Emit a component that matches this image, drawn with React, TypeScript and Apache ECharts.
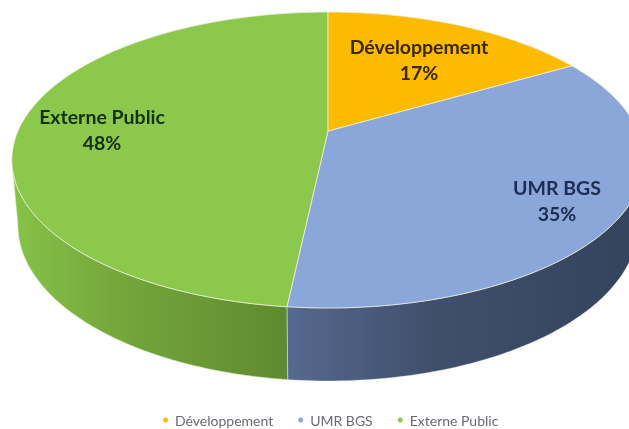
import React, { useEffect, useRef } from "react";
import * as echarts from "echarts";

const categories = ["Développement", "UMR BGS", "Externe Public"];
const values = [16.6, 35.1, 48.3];
const topColors = ["#FDBB00", "#8BA6D9", "#8CC84B"];
const sideLeft = ["#C79600", "#56698F", "#86C249"];
const sideMid = ["#C79600", "#404F6B", "#74A63B"];
const sideRight = ["#C79600", "#33435C", "#5F8A30"];
const labelColors = ["#3a2600", "#1c2c52", "#12300a"];
const labelAnchors = [[419, 59], [557, 200], [102, 129]];

const W = 629, H = 429;
const APEX_X = 328, APEX_Y = 131;
const RX = 310, RY = 142.3, PERSP = 0.196;
const START = 0;
const BOTTOM_SX = 0.981, BOTTOM_SY = 1.054, BOTTOM_APEX_Y = 194.4;
const TANGENT = (Math.acos(-PERSP) * 180) / Math.PI;
const TOTAL = values.reduce((a, b) => a + b, 0);

function project(deg: number, bottom: boolean): number[] {
  const t = (deg * Math.PI) / 180;
  const u = Math.sin(t), v = Math.cos(t);
  const d = 1 + PERSP * v;
  const sx = bottom ? BOTTOM_SX : 1;
  const sy = bottom ? BOTTOM_SY : 1;
  return [APEX_X + (sx * RX * u) / d, (bottom ? BOTTOM_APEX_Y : APEX_Y) - (sy * RY * v) / d];
}
function arc(a: number, b: number, bottom: boolean): number[][] {
  const pts: number[][] = [];
  const n = Math.max(2, Math.ceil(Math.abs(b - a)));
  for (let i = 0; i <= n; i++) pts.push(project(a + ((b - a) * i) / n, bottom));
  return pts;
}

function makeSeries(index: number) {
  const before = values.slice(0, index).reduce((a, b) => a + b, 0);
  return {
    type: "custom",
    name: categories[index],
    coordinateSystem: "none",
    silent: true,
    z: index === 0 ? 3 : 2,
    itemStyle: { color: topColors[index] },
    data: [values[index]],
    renderItem: (_p: unknown, api: any) => {
      const value = api.value(0);
      const a0 = START + (before / TOTAL) * 360;
      const a1 = a0 + (value / TOTAL) * 360;
      const children: any[] = [];
      const from = Math.max(a0, TANGENT);
      const to = Math.min(a1, 360 - TANGENT);
      if (to > from) {
        children.push({
          type: "polygon",
          shape: { points: [...arc(from, to, false), ...arc(to, from, true)] },
          style: {
            fill: new echarts.graphic.LinearGradient(0, 0, 1, 0, [
              { offset: 0, color: sideLeft[index] },
              { offset: 0.4, color: sideMid[index] },
              { offset: 1, color: sideRight[index] },
            ]),
            stroke: index === 2 ? "rgba(215,240,190,0.6)" : "rgba(225,235,240,0.35)",
            lineWidth: 1,
          },
        });
      }
      children.push({
        type: "polygon",
        shape: { points: [[APEX_X, APEX_Y], ...arc(a0, a1, false)] },
        style: { fill: topColors[index], stroke: "rgba(235,240,220,0.8)", lineWidth: 1 },
      });
      children.push({
        type: "text",
        z2: 10,
        style: {
          text: `${categories[index]}\n${Math.round(value)}%`,
          x: labelAnchors[index][0],
          y: labelAnchors[index][1],
          align: "center",
          verticalAlign: "middle",
          font: "bold 19.5px Lato",
          lineHeight: 26,
          fill: labelColors[index],
        },
      });
      return { type: "group", children };
    },
  };
}

export default function App() {
  const ref = useRef<HTMLDivElement>(null);
  useEffect(() => {
    const chart = echarts.init(ref.current!, undefined, { renderer: "svg" });
    chart.setOption({
      animation: false,
      backgroundColor: "#ffffff",
      legend: {
        show: true,
        top: 413,
        left: 163,
        padding: 0,
        data: categories.map((name) => ({ name, icon: "circle" })),
        itemWidth: 5,
        itemHeight: 5,
        itemGap: 25,
        textStyle: { color: "#6a6a72", fontSize: 14, lineHeight: 14, fontFamily: "Lato", padding: [0, 0, 0, 2] },
      },
      series: categories.map((_, i) => makeSeries(i)),
    });
    return () => chart.dispose();
  }, []);
  return <div ref={ref} style={{ position: "absolute", left: 0, top: 0, width: W, height: H, filter: "blur(0.5px)" }} />;
}
